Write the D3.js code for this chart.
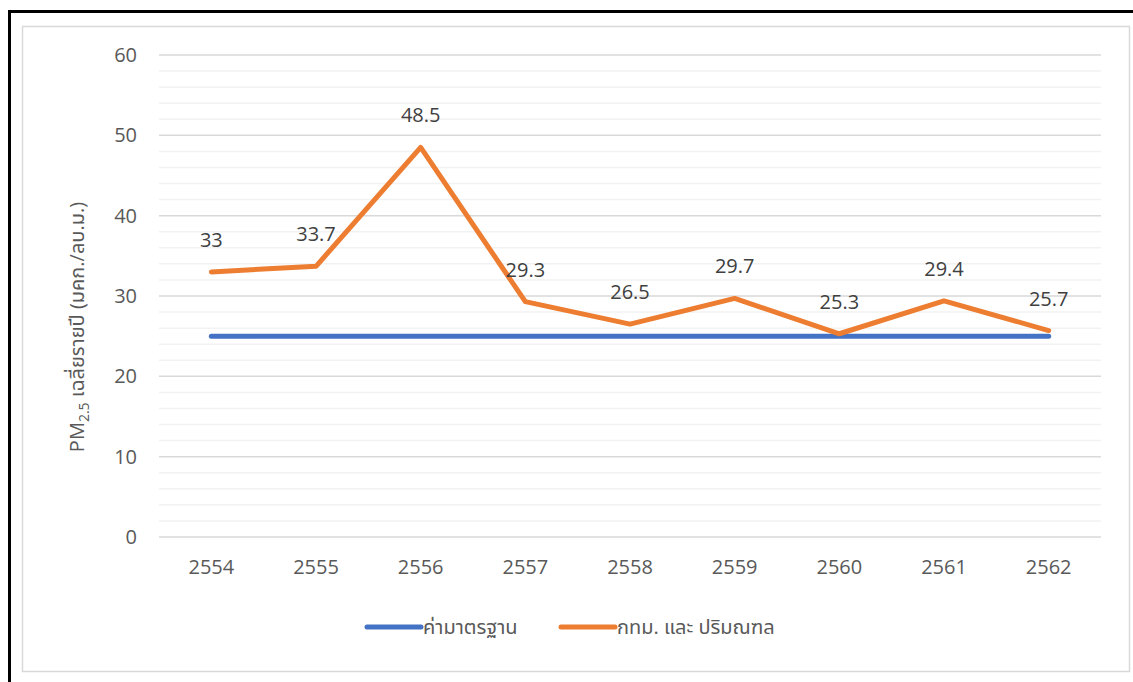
<!DOCTYPE html>
<html>
<head>
<meta charset="utf-8">
<script src="https://cdn.jsdelivr.net/npm/d3@7"></script>
<style>
  html, body { margin: 0; padding: 0; background: #fff; }
  svg { display: block; }
  text { font-family: "Open Sans", "Noto Sans", "Noto Sans Thai", "DejaVu Sans", sans-serif; }
</style>
</head>
<body>
<svg id="chart" width="1133" height="682"></svg>
<script>
const categories = ["2554", "2555", "2556", "2557", "2558", "2559", "2560", "2561", "2562"];
const standardValues = [25, 25, 25, 25, 25, 25, 25, 25, 25];
const bkkValues = [33, 33.7, 48.5, 29.3, 26.5, 29.7, 25.3, 29.4, 25.7];
const yTicks = [0, 10, 20, 30, 40, 50, 60];
const yMinorTicks = [2, 4, 6, 8, 12, 14, 16, 18, 22, 24, 26, 28, 32, 34, 36, 38, 42, 44, 46, 48, 52, 54, 56, 58];
const seriesNames = ["ค่ามาตรฐาน", "กทม. และ ปริมณฑล"];
const seriesColors = ["#4472C4", "#ED7D31"];

const svg = d3.select("#chart");

// Outer black frame (left and top visible)
svg.append("path")
  .attr("d", "M9.5,682 L9.5,11.5 L1133,11.5")
  .attr("fill", "none").attr("stroke", "#000").attr("stroke-width", 3);

// Chart area gray border
svg.append("rect")
  .attr("x", 22.5).attr("y", 26.5).attr("width", 1107).attr("height", 645)
  .attr("fill", "#fff").attr("stroke", "#D9D9D9").attr("stroke-width", 1.5);

const plotLeft = 159, plotRight = 1101, plotTop = 55, plotBottom = 537;
const x = d3.scaleBand().domain(categories).range([plotLeft, plotRight]);
const y = d3.scaleLinear().domain([0, 60]).range([plotBottom, plotTop]);
const cx = d => x(d) + x.bandwidth() / 2;

// Minor gridlines
svg.append("g").selectAll("line").data(yMinorTicks).join("line")
  .attr("x1", plotLeft).attr("x2", plotRight)
  .attr("y1", d => y(d)).attr("y2", d => y(d))
  .attr("stroke", "#F2F2F2").attr("stroke-width", 1.5);

// Major gridlines
svg.append("g").selectAll("line").data(yTicks).join("line")
  .attr("x1", plotLeft).attr("x2", plotRight)
  .attr("y1", d => y(d)).attr("y2", d => y(d))
  .attr("stroke", "#D9D9D9").attr("stroke-width", 1.5);

// Y axis labels
const yAxis = d3.axisLeft(y).tickValues(yTicks).tickSize(0).tickPadding(0);
const gy = svg.append("g").attr("transform", `translate(${plotLeft - 22},0)`).call(yAxis);
gy.select(".domain").remove();
gy.selectAll("text").attr("fill", "#595959").style("font-size", "20px")
  .style("font-family", "'Open Sans', 'Noto Sans', sans-serif");

// X axis labels
const xAxis = d3.axisBottom(x).tickSize(0).tickPadding(0);
const gx = svg.append("g").attr("transform", `translate(0,${plotBottom + 23})`).call(xAxis);
gx.select(".domain").remove();
gx.selectAll("text").attr("fill", "#595959").style("font-size", "20px")
  .style("font-family", "'Open Sans', 'Noto Sans', sans-serif");

// Y axis title
const title = svg.append("text")
  .attr("transform", "translate(84,327) rotate(-90)")
  .attr("text-anchor", "middle")
  .attr("fill", "#595959")
  .style("font-size", "20px");
title.append("tspan").text("PM");
title.append("tspan").text("2.5").style("font-size", "14px").attr("dy", 5);
title.append("tspan").text(" เฉลี่ยรายปี (มคก./ลบ.ม.)").attr("dy", -5);

const line = d3.line().x((d, i) => cx(categories[i])).y(d => y(d));

svg.append("path").datum(standardValues)
  .attr("d", line).attr("fill", "none")
  .attr("stroke", seriesColors[0]).attr("stroke-width", 5)
  .attr("stroke-linecap", "round").attr("stroke-linejoin", "round");

svg.append("path").datum(bkkValues)
  .attr("d", line).attr("fill", "none")
  .attr("stroke", seriesColors[1]).attr("stroke-width", 5)
  .attr("stroke-linecap", "round").attr("stroke-linejoin", "round");

// Data labels
svg.append("g").selectAll("text").data(bkkValues).join("text")
  .attr("x", (d, i) => cx(categories[i]))
  .attr("y", d => y(d) - 25)
  .attr("text-anchor", "middle")
  .attr("fill", "#404040")
  .style("font-size", "20px")
  .text(d => String(d));

// Legend
const legendItems = [
  { name: seriesNames[0], color: seriesColors[0], x0: 367 },
  { name: seriesNames[1], color: seriesColors[1], x0: 561 }
];
const lg = svg.append("g");
legendItems.forEach(it => {
  lg.append("line")
    .attr("x1", it.x0).attr("x2", it.x0 + 54)
    .attr("y1", 627).attr("y2", 627)
    .attr("stroke", it.color).attr("stroke-width", 5)
    .attr("stroke-linecap", "round");
  lg.append("text")
    .attr("x", it.x0 + 56).attr("y", 634)
    .attr("fill", "#595959").style("font-size", "20px")
    .text(it.name);
});
</script>
</body>
</html>
